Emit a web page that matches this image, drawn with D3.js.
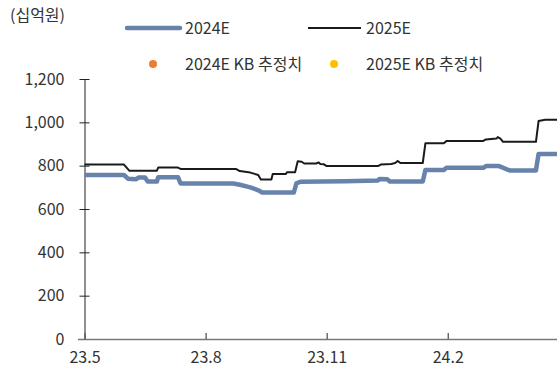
<!DOCTYPE html>
<html><head><meta charset="utf-8">
<script src="https://cdn.jsdelivr.net/npm/d3@7"></script>
<style>
body{margin:0;background:#fff;}
text{font-family:"Noto Sans CJK KR","Noto Sans",sans-serif;fill:#333;}
</style></head>
<body><svg id="c" width="557" height="369"></svg>
<script>
const unitLabel = "(십억원)";
const seriesNames = ["2024E", "2025E"];
const kbNames = ["2024E KB 추정치", "2025E KB 추정치"];
const yTicks = [0, 200, 400, 600, 800, 1000, 1200];
const xTickDates = ["2023-05-01", "2023-08-01", "2023-11-01", "2024-02-01"];
const xTickLabels = ["23.5", "23.8", "23.11", "24.2"];
const dateDomain = ["2023-05-01", "2024-04-24"];

const s2024Dates = ["2023-05-01","2023-05-31","2023-06-03","2023-06-09","2023-06-11","2023-06-16","2023-06-18","2023-06-25","2023-06-26","2023-07-11","2023-07-13","2023-08-22","2023-08-27","2023-09-04","2023-09-11","2023-09-13","2023-10-07","2023-10-09","2023-10-12","2023-11-15","2023-12-10","2023-12-11","2023-12-17","2023-12-19","2024-01-13","2024-01-15","2024-01-29","2024-01-31","2024-02-28","2024-03-01","2024-03-11","2024-03-19","2024-04-08","2024-04-10","2024-04-24"];
const s2024Values = [757,757,740,737,745,745,727,727,747,747,718,718,712,700,684,676,676,718,726,728,732,738,737,727,727,780,780,790,790,798,798,778,778,854,854];

const s2025Dates = ["2023-05-01","2023-05-31","2023-06-04","2023-06-25","2023-06-26","2023-07-11","2023-07-13","2023-08-24","2023-08-27","2023-09-04","2023-09-10","2023-09-12","2023-09-20","2023-09-21","2023-10-01","2023-10-02","2023-10-08","2023-10-10","2023-10-13","2023-10-15","2023-10-24","2023-10-26","2023-10-27","2023-10-30","2023-11-01","2023-12-10","2023-12-12","2023-12-20","2023-12-23","2023-12-25","2023-12-27","2024-01-13","2024-01-15","2024-01-29","2024-01-31","2024-02-28","2024-03-01","2024-03-09","2024-03-10","2024-03-12","2024-03-14","2024-04-08","2024-04-10","2024-04-15","2024-04-24"];
const s2025Values = [805,805,777,777,791,791,785,785,775,768,757,736,736,762,762,770,770,820,818,810,810,815,808,806,798,798,805,808,812,822,812,812,903,903,914,914,921,925,932,925,910,910,1006,1012,1012];

const colors = {s2024:"#6783ab", s2025:"#1a1a1a", kb2024:"#ed7d31", kb2025:"#ffc000"};
const fs = "16px";

const parse = d3.timeParse("%Y-%m-%d");
const svg = d3.select("#c");
const x = d3.scaleTime().domain(dateDomain.map(parse)).range([84.5, 557]);
const y = d3.scaleLinear().domain([0, 1200]).range([339, 79]);

// y axis
const yAxis = svg.append("g").attr("transform","translate(84.5,0)")
  .call(d3.axisLeft(y).tickValues(yTicks).tickSizeInner(0).tickSizeOuter(0).tickFormat(d3.format(",")).tickPadding(20));
yAxis.select(".domain").attr("stroke","#222").attr("stroke-width",1);
yAxis.selectAll(".tick line").attr("x1",-5).attr("x2",5).attr("stroke","#222");
yAxis.selectAll(".tick text").style("font-size",fs).attr("fill","#333").attr("x",-20).attr("text-anchor","end");

// x axis
const xAxis = svg.append("g").attr("transform","translate(0,339)")
  .call(d3.axisBottom(x).tickValues(xTickDates.map(parse)).tickSizeInner(-6).tickSizeOuter(0)
    .tickFormat((d,i)=>xTickLabels[i]).tickPadding(13));
xAxis.select(".domain").attr("stroke","#777").attr("stroke-width",1.6).attr("d","M78,0.5H557");
xAxis.selectAll(".tick line").attr("stroke","#555").attr("stroke-width",1.3);
xAxis.selectAll(".tick text").style("font-size",fs).attr("fill","#333");

const line = d3.line().x(d=>x(d[0])).y(d=>y(d[1]));
const d2024 = s2024Dates.map((d,i)=>[parse(d), s2024Values[i]]);
const d2025 = s2025Dates.map((d,i)=>[parse(d), s2025Values[i]]);

svg.append("path").datum(d2024).attr("d",line).attr("fill","none")
  .attr("stroke",colors.s2024).attr("stroke-width",4.5).attr("stroke-linejoin","round");
svg.append("path").datum(d2025).attr("d",line).attr("fill","none")
  .attr("stroke",colors.s2025).attr("stroke-width",2).attr("stroke-linejoin","round");

// unit label
svg.append("text").attr("x",10).attr("y",21).style("font-size",fs).text(unitLabel);

// legend
const lg = svg.append("g");
lg.append("line").attr("x1",127).attr("x2",180).attr("y1",28).attr("y2",28).attr("stroke",colors.s2024).attr("stroke-width",4.5).attr("stroke-linecap","round");
lg.append("text").attr("x",185).attr("y",34).style("font-size",fs).text(seriesNames[0]);
lg.append("line").attr("x1",308).attr("x2",361).attr("y1",28).attr("y2",28).attr("stroke",colors.s2025).attr("stroke-width",2);
lg.append("text").attr("x",366).attr("y",34).style("font-size",fs).text(seriesNames[1]);
lg.append("circle").attr("cx",153).attr("cy",64).attr("r",4).attr("fill",colors.kb2024);
lg.append("text").attr("x",185).attr("y",70).style("font-size",fs).text(kbNames[0]);
lg.append("circle").attr("cx",334).attr("cy",64).attr("r",4).attr("fill",colors.kb2025);
lg.append("text").attr("x",366).attr("y",70).style("font-size",fs).text(kbNames[1]);
</script></body></html>
